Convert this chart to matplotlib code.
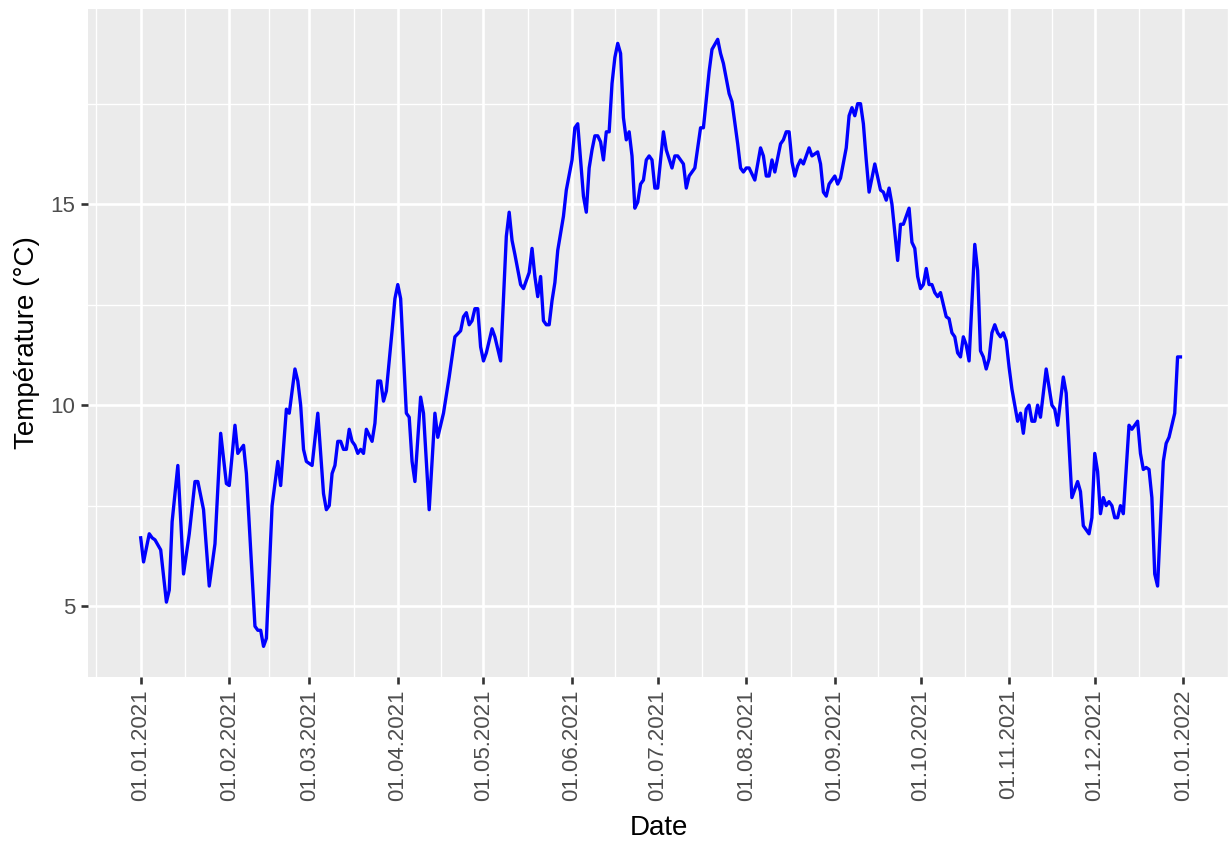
import numpy as np
import pandas as pd
import matplotlib
matplotlib.use("Agg")
import matplotlib.pyplot as plt
import matplotlib.dates as mdates

plt.rcParams['font.family'] = ['Liberation Sans', 'DejaVu Sans']

# day offsets from 01.01.2021 and temperature
days = [0, 1, 3, 4, 5, 7, 9, 10, 11, 13, 15, 17, 19, 20, 22, 24, 26, 28, 30, 31,
        33, 34, 36, 37, 40, 41, 42, 43, 44, 46, 48, 49, 51, 52, 54, 55, 56, 57, 58, 60,
        62, 64, 65, 66, 67, 68, 69, 70, 71, 72, 73, 74, 75, 76, 77, 78, 79, 81, 82, 83,
        84, 85, 86, 88, 89, 90, 91, 93, 94, 95, 96, 98, 99, 101, 103, 104, 106, 108, 110, 112,
        113, 114, 115, 116, 117, 118, 119, 120, 121, 123, 124, 126, 128, 129, 130, 131, 133, 134, 136, 137,
        138, 139, 140, 141, 142, 143, 144, 145, 146, 148, 149, 151, 152, 153, 155, 156, 157, 158, 159, 160,
        161, 162, 163, 164, 165, 166, 167, 168, 169, 170, 171, 172, 173, 174, 175, 176, 177, 178, 179, 180,
        181, 183, 184, 186, 187, 188, 190, 191, 192, 194, 196, 197, 199, 200, 202, 203, 204, 206, 207, 209,
        210, 211, 212, 213, 215, 217, 218, 219, 220, 221, 222, 224, 225, 226, 227, 228, 229, 230, 231, 232,
        234, 235, 236, 237, 238, 239, 240, 241, 243, 244, 245, 247, 248, 249, 250, 251, 252, 253, 254, 255,
        257, 259, 260, 261, 262, 263, 265, 266, 267, 268, 269, 270, 271, 272, 273, 274, 275, 276, 277, 278,
        279, 280, 282, 283, 284, 285, 286, 287, 288, 289, 290, 292, 293, 294, 295, 296, 297, 298, 299, 300,
        301, 302, 303, 304, 305, 307, 308, 309, 310, 311, 312, 313, 314, 315, 317, 319, 320, 321, 323, 324,
        326, 328, 329, 330, 332, 333, 334, 335, 336, 337, 338, 339, 340, 341, 342, 343, 344, 346, 347, 349,
        350, 351, 352, 353, 354, 355, 356, 358, 359, 360, 362, 363, 364]
temps = [6.7, 6.1, 6.8, 6.7, 6.65, 6.4, 5.1, 5.4, 7.1, 8.5, 5.8, 6.8, 8.1, 8.1, 7.4, 5.5, 6.55, 9.3, 8.05, 8.0,
         9.5, 8.8, 9.0, 8.3, 4.5, 4.4, 4.4, 4.0, 4.2, 7.5, 8.6, 8.0, 9.9, 9.8, 10.9, 10.6, 10.0, 8.9, 8.6, 8.5,
         9.8, 7.8, 7.4, 7.5, 8.3, 8.5, 9.1, 9.1, 8.9, 8.9, 9.4, 9.1, 9.0, 8.8, 8.9, 8.8, 9.4, 9.1, 9.55, 10.6,
         10.6, 10.1, 10.35, 11.85, 12.65, 13.0, 12.65, 9.8, 9.7, 8.6, 8.1, 10.2, 9.8, 7.4, 9.8, 9.2, 9.8, 10.7, 11.7, 11.85,
         12.2, 12.3, 12.0, 12.1, 12.4, 12.4, 11.45, 11.1, 11.3, 11.9, 11.7, 11.1, 14.2, 14.8, 14.1, 13.75, 13.0, 12.9, 13.3, 13.9,
         13.2, 12.7, 13.2, 12.1, 12.0, 12.0, 12.6, 13.05, 13.85, 14.7, 15.35, 16.1, 16.9, 17.0, 15.2, 14.8, 15.9, 16.35, 16.7, 16.7,
         16.55, 16.1, 16.8, 16.8, 18.0, 18.65, 19.0, 18.75, 17.15, 16.6, 16.8, 16.2, 14.9, 15.05, 15.5, 15.6, 16.1, 16.2, 16.1, 15.4,
         15.4, 16.8, 16.35, 15.9, 16.2, 16.2, 16.0, 15.4, 15.7, 15.9, 16.9, 16.9, 18.3, 18.85, 19.1, 18.75, 18.5, 17.75, 17.55, 16.5,
         15.9, 15.8, 15.9, 15.9, 15.6, 16.4, 16.2, 15.7, 15.7, 16.1, 15.8, 16.5, 16.6, 16.8, 16.8, 16.05, 15.7, 15.95, 16.1, 16.0,
         16.4, 16.2, 16.25, 16.3, 16.0, 15.3, 15.2, 15.5, 15.7, 15.5, 15.65, 16.4, 17.2, 17.4, 17.2, 17.5, 17.5, 17.0, 16.1, 15.3,
         16.0, 15.35, 15.3, 15.1, 15.4, 15.0, 13.6, 14.5, 14.5, 14.7, 14.9, 14.05, 13.9, 13.2, 12.9, 13.0, 13.4, 13.0, 13.0, 12.8,
         12.7, 12.8, 12.2, 12.15, 11.8, 11.7, 11.3, 11.2, 11.7, 11.5, 11.1, 14.0, 13.35, 11.35, 11.2, 10.9, 11.15, 11.8, 12.0, 11.8,
         11.7, 11.8, 11.6, 10.95, 10.4, 9.6, 9.8, 9.3, 9.9, 10.0, 9.6, 9.6, 10.0, 9.7, 10.9, 10.0, 9.9, 9.5, 10.7, 10.3,
         7.7, 8.1, 7.85, 7.0, 6.8, 7.2, 8.8, 8.35, 7.3, 7.7, 7.5, 7.6, 7.5, 7.2, 7.2, 7.5, 7.3, 9.5, 9.4, 9.6,
         8.8, 8.4, 8.45, 8.4, 7.7, 5.8, 5.5, 8.6, 9.05, 9.2, 9.8, 11.2, 11.2]

start = pd.Timestamp('2021-01-01')
dates = start + pd.to_timedelta(days, unit='D')

month_starts = pd.date_range('2021-01-01', '2022-01-01', freq='MS')
grid_months = pd.date_range('2020-12-01', '2022-02-01', freq='MS')
mnum = mdates.date2num(grid_months)
minor_x = (mnum[:-1] + mnum[1:]) / 2

fig = plt.figure(figsize=(12.29, 8.43), dpi=100)
ax = fig.add_axes([88 / 1229, (843 - 676.7) / 843, 1141 / 1229, 667.7 / 843])
ax.set_facecolor('#EBEBEB')

ax.plot(dates, temps, color='blue', linewidth=2.4, zorder=3)

ax.set_xticks(mdates.date2num(month_starts))
ax.set_xticklabels([d.strftime('%d.%m.%Y') for d in month_starts], rotation=90)
ax.set_xticks(minor_x, minor=True)
ax.set_yticks([5, 10, 15])
ax.set_yticks([2.5, 7.5, 12.5, 17.5], minor=True)

# ggplot-style 5% expansion
lo, hi = min(temps), max(temps)
pad = 0.05 * (hi - lo)
ax.set_ylim(lo - pad, hi + pad)
ax.set_xlim(mdates.date2num(start) - 18.45, mdates.date2num(start) + 381)

ax.grid(which='major', color='white', linewidth=1.9)
ax.grid(which='minor', color='white', linewidth=0.95)
ax.set_axisbelow(True)
for s in ax.spines.values():
    s.set_visible(False)

ax.tick_params(which='major', length=5, width=1.9, color='#333333',
               labelcolor='#4D4D4D', labelsize=16, pad=4)
ax.tick_params(which='minor', length=0)

ax.set_xlabel('Date', fontsize=20, labelpad=10)
ax.set_ylabel('Température (°C)', fontsize=20, labelpad=8)

fig.savefig('out.png', dpi=100)
